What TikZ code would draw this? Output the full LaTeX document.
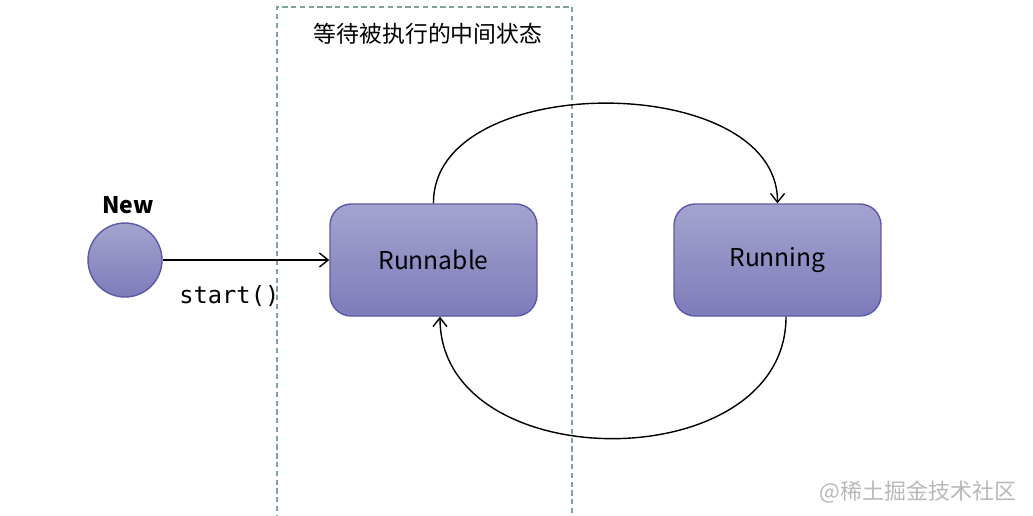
\documentclass[tikz,border=0pt]{standalone}
\usepackage{fontspec}
\setmainfont{Noto Sans CJK SC}
\newfontfamily\monofont{DejaVu Sans Mono}
\usetikzlibrary{arrows.meta,positioning}

\definecolor{stateline}{HTML}{5B5AA6}
\definecolor{statetop}{HTML}{A4A3CF}
\definecolor{statebot}{HTML}{7D7CBA}
\definecolor{waitline}{HTML}{7FA398}

\tikzset{
  statebox/.style={draw=stateline,line width=0.8pt,rounded corners=12pt,
    top color=statetop,bottom color=statebot,
    minimum width=4.14cm,minimum height=2.24cm,font=\fontsize{14}{16}\selectfont},
  newstate/.style={circle,draw=stateline,line width=0.8pt,
    top color=statetop,bottom color=statebot,minimum size=1.48cm,inner sep=0pt},
  trans/.style={->,line width=0.8pt}
}

\begin{document}
\begin{tikzpicture}[>={Straight Barb[length=5pt,width=8pt]},x=0.02cm,y=-0.02cm]
  \useasboundingbox (0,0) rectangle (1033,515);
  \fill[white] (0,0) rectangle (1033,515);
  % waiting area
  \draw[waitline,line width=0.6pt,dash pattern=on 3pt off 2pt] (277,520) -- (277,7) -- (572,7) -- (572,520);
  \node (waittitle) at (428,34) {\fontsize{13}{15}\selectfont 等待被执行的中间状态};
  % states
  \node[newstate] (new) at (125,260) {};
  \node[font=\fontsize{13}{15}\selectfont\bfseries] (newlabel) at (128,205) {New};
  \node[statebox] (runnable) at (433.5,260) {Runnable};
  \node[statebox] (running) at (777.5,260) {Running};
  % transitions
  \draw[trans] (new) -- (runnable) node[pos=0.4,below=11pt,font=\monofont\fontsize{13.5}{15}\selectfont] {start()};
  \draw[trans] (runnable.north) .. controls (432,70) and (778,70) .. (running.north);
  \draw[trans] ([xshift=0.17cm]running.south) .. controls (786,479) and (440,479) .. ([xshift=0.13cm]runnable.south);
  \node[text=black!28,font=\fontsize{12.5}{14}\selectfont] (mark) at (918,492) {@稀土掘金技术社区};
\end{tikzpicture}
\end{document}
